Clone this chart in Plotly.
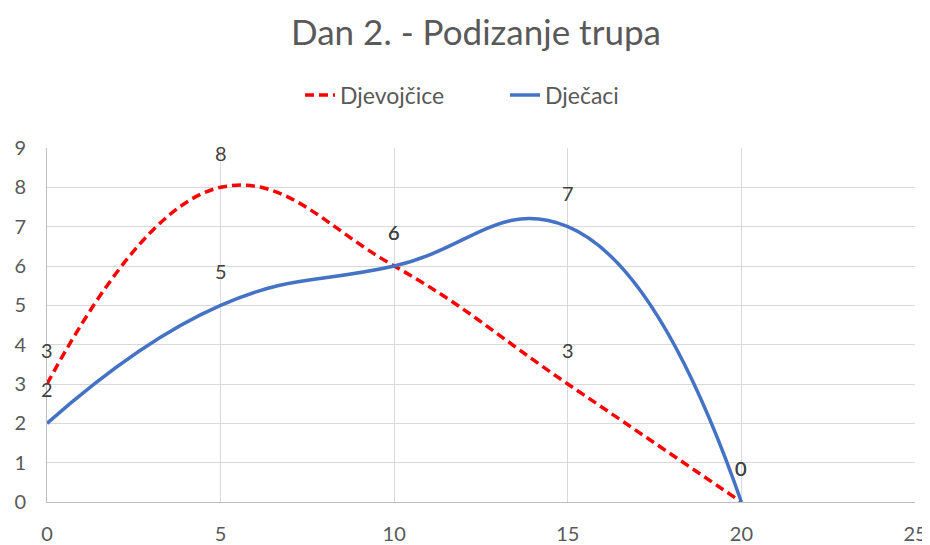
import plotly.graph_objects as go

x_vals = [0, 5, 10, 15, 20]
girls = [3, 8, 6, 3, 0]
boys = [2, 5, 6, 7, 0]
series_names = ["Djevojčice", "Dječaci"]
title_text = "Dan 2. - Podizanje trupa"

FONT = "Lato, Calibri, sans-serif"
TXT = "#595959"

W, H = 922, 537  # page body has an 8px margin

fig = go.Figure()
fig.add_trace(go.Scatter(x=x_vals, y=girls, name=series_names[0], mode="lines",
                         line=dict(color="#FF0000", width=3.5, dash="9px,5px", shape="spline", smoothing=1.2)))
fig.add_trace(go.Scatter(x=x_vals, y=boys, name=series_names[1], mode="lines",
                         line=dict(color="#4472C4", width=3.5, shape="spline", smoothing=1.3)))

for xs, ys in [(x_vals, girls), (x_vals, boys)]:
    for xv, yv in zip(xs, ys):
        fig.add_annotation(x=xv, y=yv, text=str(yv), showarrow=False, yshift=34,
                           font=dict(family=FONT, size=20, color="#404040"))

fig.update_layout(
    width=W, height=H,
    paper_bgcolor="white", plot_bgcolor="white",
    margin=dict(l=39, r=15, t=140, b=43),
    title=dict(text=title_text, x=468 / W, xanchor="center", y=1 - 25 / H, yanchor="middle",
               font=dict(family=FONT, size=35, color=TXT)),
    legend=dict(orientation="h", x=0.2915, xanchor="left", y=(494 - 87) / 354,
                yanchor="middle", entrywidth=160, font=dict(family=FONT, size=23, color=TXT)),
    font=dict(family=FONT, color=TXT),
    showlegend=True,
)
fig.update_xaxes(range=[0, 25], tick0=0, dtick=5, showgrid=True, gridcolor="#D9D9D9", gridwidth=1,
                 zeroline=False, showline=True, linecolor="#BFBFBF", linewidth=1, automargin=False,
                 tickfont=dict(family=FONT, size=20, color=TXT), ticks="", ticklabelstandoff=14)
fig.update_yaxes(range=[0, 9], tick0=0, dtick=1, showgrid=True, gridcolor="#D9D9D9", gridwidth=1,
                 zeroline=False, showline=True, linecolor="#BFBFBF", linewidth=1, automargin=False,
                 tickfont=dict(family=FONT, size=20, color=TXT), ticks="", ticklabelstandoff=16)

fig.write_html("out.html")
